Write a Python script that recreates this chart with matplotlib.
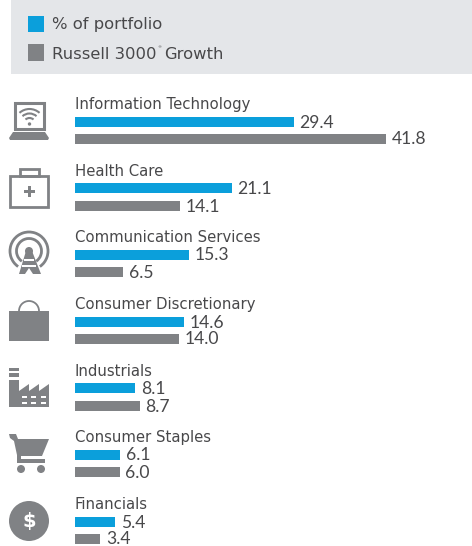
import numpy as np
import matplotlib
matplotlib.use("Agg")
import matplotlib.pyplot as plt
from matplotlib.patches import Rectangle, Circle, Polygon, Arc

categories = ["Information Technology", "Health Care", "Communication Services",
              "Consumer Discretionary", "Industrials", "Consumer Staples", "Financials"]
portfolio = [29.4, 21.1, 15.3, 14.6, 8.1, 6.1, 5.4]
benchmark = [41.8, 14.1, 6.5, 14.0, 8.7, 6.0, 3.4]
series_names = ["% of portfolio", "Russell 3000", "Growth"]

BLUE = "#0b9fdb"
GRAY = "#808285"
TXT = "#48484a"
FONT = "DejaVu Sans"
NUMFONT = "Lato"
W, H = 472, 546

fig = plt.figure(figsize=(W / 100, H / 100), dpi=100, facecolor="white")
px = fig.add_axes([0, 0, 1, 1])
px.set_xlim(0, W); px.set_ylim(H, 0); px.axis("off")

PER = 7.44
ax = fig.add_axes([75 / W, 0, (W - 75) / W, 1])
ax.set_xlim(0, (W - 75) / PER); ax.set_ylim(H, 0); ax.axis("off")
ax.patch.set_alpha(0)

label_y = [104.5, 171.5, 237.5, 304.5, 371.5, 437.5, 504.5]
blue_y = [122, 188, 255, 322, 388, 455, 522]
gray_y = [139, 206, 272, 339, 406, 472, 539]
for name, p, b, ly, by, gy in zip(categories, portfolio, benchmark, label_y, blue_y, gray_y):
    ax.barh(by, p, height=10, color=BLUE, linewidth=0)
    ax.barh(gy, b, height=10, color=GRAY, linewidth=0)
    ax.text(0, ly, name, fontsize=10.7, color=TXT, family=FONT, va="center", ha="left")
    ax.annotate(f"{p:.1f}", (p, by + 0.5), xytext=(4.0, 0), textcoords="offset points",
                fontsize=12.6, color=TXT, family=NUMFONT, va="center", ha="left")
    ax.annotate(f"{b:.1f}", (b, gy + 0.5), xytext=(4.0, 0), textcoords="offset points",
                fontsize=12.6, color=TXT, family=NUMFONT, va="center", ha="left")

px.add_patch(Rectangle((11, 0), W - 11, 73.5, color="#e4e6e9", lw=0))
px.add_patch(Rectangle((28, 16), 16, 16, color=BLUE, lw=0))
px.add_patch(Rectangle((28, 44), 16, 17, color=GRAY, lw=0))
LEG = 11.8
px.text(52, 24.5, series_names[0], fontsize=LEG, color=TXT, family=FONT, va="center")
t1 = px.text(52, 54.5, series_names[1], fontsize=LEG, color=TXT, family=FONT, va="center")
r = fig.canvas.get_renderer()
x_end = 52 + t1.get_window_extent(r).width
t2 = px.text(x_end + 0.5, 47.5, "®", fontsize=3, color=TXT, family=FONT, va="center")
px.text(x_end + t2.get_window_extent(r).width + 3.5, 54.5, series_names[2], fontsize=LEG,
        color=TXT, family=FONT, va="center")

G = GRAY
def rect(x0, y0, x1, y1, c=G, z=3):
    px.add_patch(Rectangle((x0, y0), x1 - x0, y1 - y0, color=c, lw=0, zorder=z))
def arc(cx, cy, d, a0, a1, lw=1.8, c=G, z=4):
    px.add_patch(Arc((cx, cy), d, d, theta1=a0, theta2=a1, color=c, lw=lw, zorder=z))
def poly(pts, c=G, z=3):
    px.add_patch(Polygon(pts, closed=True, color=c, lw=0, zorder=z))

# Laptop
px.add_patch(Rectangle((14.5, 102.5), 29, 26, fill=False, ec=G, lw=2.2, zorder=3))
poly([(13, 132), (45, 132), (49, 138), (48, 140), (10, 140), (9, 138)])
for d in (12, 21, 30):
    arc(29.5, 124, d, 228, 312, lw=1.5)
px.add_patch(Circle((29.5, 124), 1.7, color=G, lw=0, zorder=4))

# Medical case
px.add_patch(Rectangle((10, 175.5), 38, 31, fill=False, ec=G, lw=2, zorder=3))
px.add_patch(Rectangle((19.5, 169), 19, 6.5, fill=False, ec=G, lw=2, zorder=3))
rect(23.5, 190, 35, 192.5)
rect(28, 185.5, 30.5, 197)

# Antenna
arc(29, 251, 38, 125, 415, lw=2)
arc(29, 251, 25, 125, 415, lw=2)
px.add_patch(Circle((29, 251), 4, color=G, lw=0, zorder=4))
poly([(26, 251), (32, 251), (41, 274), (19, 274)])
rect(24, 259, 34, 261, "white", 5)
rect(22, 265, 36, 267, "white", 5)
poly([(29, 268), (25, 274), (33, 274)], "white", 5)

# Briefcase
rect(9, 311, 49, 341)
arc(29, 311, 20, 180, 360, lw=1.3)

# Factory
rect(9, 368, 19, 371)
rect(9, 373, 19, 377)
poly([(9, 380), (19, 380), (19, 391), (29, 384), (29, 391), (39, 384), (39, 391), (49, 384),
      (49, 407), (9, 407)])
for yy in (396, 402):
    for xx in (22, 31, 41):
        rect(xx, yy, xx + 5, yy + 2.2, "white", 5)

# Cart
poly([(9, 434), (16, 434), (18, 439), (49, 439), (42, 456), (21, 456), (21, 459), (45, 459), (45, 463),
      (17, 463), (17, 455), (14, 441), (10, 438)])
px.add_patch(Circle((21, 469), 4, color=G, lw=0, zorder=3))
px.add_patch(Circle((41, 469), 4, color=G, lw=0, zorder=3))

# Dollar coin
px.add_patch(Circle((29, 521), 20, color=G, lw=0, zorder=3))
px.text(29, 521, "$", fontsize=14, color="white", family=FONT, weight="bold", ha="center", va="center", zorder=4)

fig.savefig("out.png", dpi=100, facecolor="white")
